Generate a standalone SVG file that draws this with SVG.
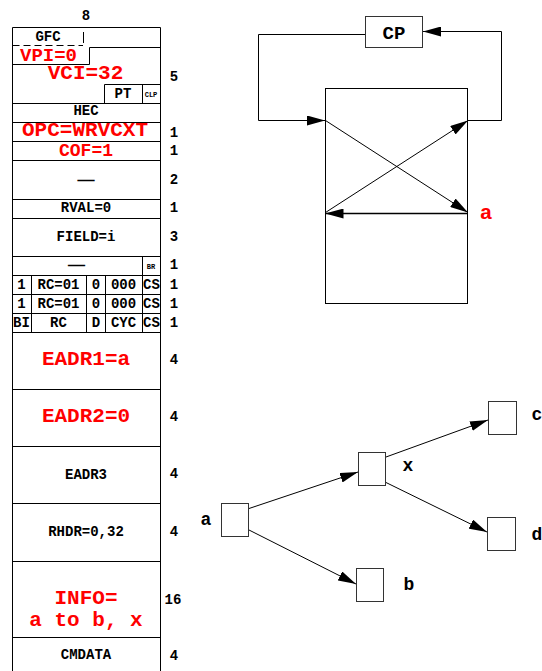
<svg xmlns="http://www.w3.org/2000/svg" width="542" height="671" viewBox="0 0 542 671">
<defs>
<marker id="ah" markerUnits="userSpaceOnUse" markerWidth="18" markerHeight="10" refX="18" refY="5" orient="auto">
<path d="M0,0 L18,5 L0,10 z" fill="#000"/>
</marker>
<style>
.ln{stroke:#000;stroke-width:1;fill:none}
.bx{stroke:#333;stroke-width:1;fill:#fff}
.t{font-family:"Liberation Mono","Courier New",monospace;font-weight:bold;fill:#000;text-anchor:middle}
.s{font-size:14px}
.xs{font-size:7px}
.r{fill:#ff0000;font-size:21px}
.lbl{font-size:18px}
.cn{stroke:#000;stroke-width:1;fill:none;marker-end:url(#ah)}
</style>
</defs>
<rect width="542" height="671" fill="#fff"/>

<g id="table">
<path class="ln" d="M12.5,27.5 H160.5 M12.5,27.5 V671 M160.5,27.5 V671"/>
<path class="ln" d="M12.5,45.5 H83" stroke-dasharray="7,4"/>
<path class="ln" d="M83.5,32 V43"/>
<path class="ln" d="M89.5,47.5 H160.5 M89.5,47.5 V64.5 M12.5,64.5 H89.5"/>
<path class="ln" d="M104.5,84.5 H160.5 M104.5,84.5 V103.5 M142.5,84.5 V103.5"/>
<path class="ln" d="M12.5,103.5 H160.5 M12.5,122.5 H160.5 M12.5,141.5 H160.5 M12.5,160.5 H160.5 M12.5,199.5 H160.5 M12.5,218.5 H160.5 M12.5,256.5 H160.5 M12.5,275.5 H160.5 M12.5,294.5 H160.5 M12.5,313.5 H160.5 M12.5,332.5 H160.5 M12.5,389.5 H160.5 M12.5,446.5 H160.5 M12.5,503.5 H160.5 M12.5,561.5 H160.5 M12.5,637.5 H160.5"/>
<path class="ln" d="M142.5,256.5 V332.5 M31.5,275.5 V332.5 M86.5,275.5 V332.5 M105.5,275.5 V332.5"/>

<text class="t s" x="86" y="20">8</text>
<text class="t s" x="48" y="41">GFC</text>
<text class="t r" x="48.5" y="61" style="font-size:19px">VPI=0</text>
<text class="t r" x="85.5" y="79">VCI=32</text>
<text class="t s" x="123" y="98">PT</text>
<text class="t xs" x="151" y="97">CLP</text>
<text class="t s" x="86" y="115">HEC</text>
<text class="t r" x="85" y="136">OPC=WRVCXT</text>
<text class="t r" x="86" y="156" style="font-size:18px">COF=1</text>
<text class="t s" x="86" y="184" textLength="17" lengthAdjust="spacingAndGlyphs">—</text>
<text class="t s" x="86" y="212">RVAL=0</text>
<text class="t s" x="86" y="241">FIELD=i</text>
<text class="t s" x="76.5" y="269" textLength="17" lengthAdjust="spacingAndGlyphs">—</text>
<text class="t xs" x="151" y="269">BR</text>

<text class="t s" x="21.5" y="289">1</text>
<text class="t s" x="58.5" y="289">RC=01</text>
<text class="t s" x="96" y="289">0</text>
<text class="t s" x="123.5" y="289">000</text>
<text class="t s" x="151.5" y="289">CS</text>

<text class="t s" x="21.5" y="308">1</text>
<text class="t s" x="58.5" y="308">RC=01</text>
<text class="t s" x="96" y="308">0</text>
<text class="t s" x="123.5" y="308">000</text>
<text class="t s" x="151.5" y="308">CS</text>

<text class="t s" x="21.5" y="327">BI</text>
<text class="t s" x="58.5" y="327">RC</text>
<text class="t s" x="96" y="327">D</text>
<text class="t s" x="123.5" y="327">CYC</text>
<text class="t s" x="151.5" y="327">CS</text>

<text class="t r" x="86" y="365">EADR1=a</text>
<text class="t r" x="86" y="422">EADR2=0</text>
<text class="t s" x="86" y="479">EADR3</text>
<text class="t s" x="86" y="536">RHDR=0,32</text>
<text class="t r" x="86" y="604">INFO=</text>
<text class="t r" x="86" y="626">a to b, x</text>
<text class="t s" x="86" y="659">CMDATA</text>

<text class="t s" x="174" y="81">5</text>
<text class="t s" x="174" y="137">1</text>
<text class="t s" x="174" y="155">1</text>
<text class="t s" x="174" y="184">2</text>
<text class="t s" x="174" y="212">1</text>
<text class="t s" x="174" y="241">3</text>
<text class="t s" x="174" y="269">1</text>
<text class="t s" x="174" y="289">1</text>
<text class="t s" x="174" y="308">1</text>
<text class="t s" x="174" y="327">1</text>
<text class="t s" x="174" y="364">4</text>
<text class="t s" x="174" y="421">4</text>
<text class="t s" x="174" y="478">4</text>
<text class="t s" x="174" y="536">4</text>
<text class="t s" x="173" y="604">16</text>
<text class="t s" x="174" y="660">4</text>
</g>

<g id="cp">
<rect class="bx" x="365.5" y="16.5" width="57" height="31"/>
<text class="t" x="394" y="39" style="font-size:19px">CP</text>
</g>
<g id="memory">
<rect class="ln" x="325.5" y="88.5" width="142" height="215"/>
</g>
<g id="label-a-red">
<text class="t r" x="486" y="219">a</text>
</g>

<g id="tree-a"><rect class="bx" x="221.5" y="503.5" width="27" height="33"/><text class="t lbl" x="206" y="525">a</text></g>
<g id="tree-x"><rect class="bx" x="358.5" y="452.5" width="27" height="33"/><text class="t lbl" x="408" y="471">x</text></g>
<g id="tree-b"><rect class="bx" x="356.5" y="568.5" width="27" height="33"/><text class="t lbl" x="409" y="590">b</text></g>
<g id="tree-c"><rect class="bx" x="488.5" y="401.5" width="28" height="33"/><text class="t lbl" x="537" y="420">c</text></g>
<g id="tree-d"><rect class="bx" x="487.5" y="517.5" width="28" height="33"/><text class="t lbl" x="537" y="540">d</text></g>

<g id="connectors">
<path class="cn" d="M365,34.5 H258.5 V120.5 H325"/>
<path class="cn" d="M468,120.5 H501.5 V31.5 H423"/>
<path class="cn" d="M325.5,120.5 L468,212.5"/>
<path class="cn" d="M325.5,212.5 L468,120.5"/>
<path class="cn" d="M468,213.5 L325.5,213.5" style="stroke-width:1.5"/>
<path class="cn" d="M249,508.5 L358,472"/>
<path class="cn" d="M249,530 L356,584"/>
<path class="cn" d="M386,457 L488,420"/>
<path class="cn" d="M386,482.5 L487,532"/>
</g>
</svg>
